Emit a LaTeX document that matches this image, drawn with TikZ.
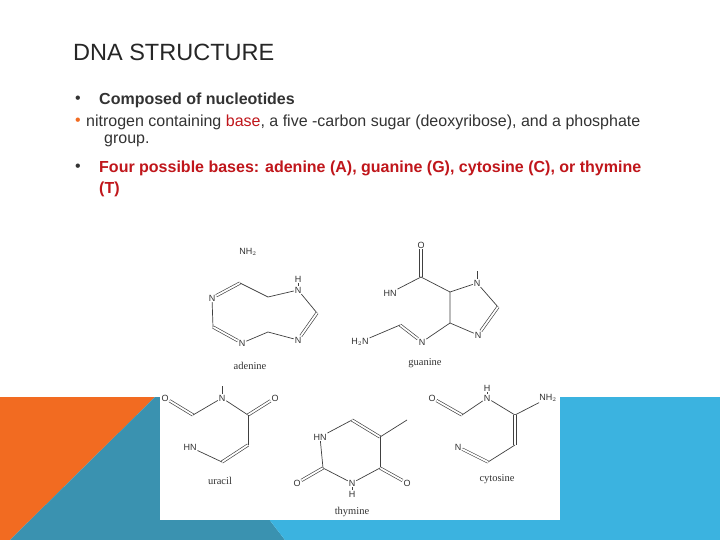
\documentclass[tikz,border=0pt]{standalone}
\usepackage{fontspec}
\setmainfont{Liberation Sans}
\newfontfamily\labfont{Liberation Serif}
\definecolor{orng}{HTML}{F26B21}
\definecolor{teal2}{HTML}{3A92B0}
\definecolor{lblue}{HTML}{3BB3E0}
\definecolor{dred}{HTML}{C0161B}
\begin{document}
\begin{tikzpicture}[x=1pt,y=-1pt,
  atom/.style={font=\fontsize{9}{10}\selectfont,inner sep=0.8pt,text=black!80},
  mlab/.style={font=\labfont\fontsize{10.5}{11}\selectfont,text=black!80},
  bd/.style={draw=black!75,line width=0.7pt},
  db/.style={draw=black!75,double=white,double distance=1.8pt,line width=0.65pt},
  txt/.style={anchor=west,inner sep=0pt,text=black!80}]
\useasboundingbox (0,0) rectangle (720,540);
\fill[white] (0,0) rectangle (720,540);
% background shapes
\fill[orng] (0,397) -- (155,397) -- (10,540) -- (0,540) -- cycle;
\fill[teal2] (155,397) -- (175,397) -- (285,540) -- (10,540) -- cycle;
\fill[lblue] (175,397) -- (720,397) -- (720,540) -- (285,540) -- cycle;
% texts
\node[txt,font=\fontsize{23.5}{26}\selectfont,text=black!85] (title) at (73,52) {DNA STRUCTURE};
\node[txt,font=\fontsize{16}{18}\selectfont] (b1) at (75,100) {•};
\node[txt,font=\bfseries\fontsize{16}{18}\selectfont] (t1) at (99,100) {Composed of nucleotides};
\node[txt,font=\fontsize{16}{18}\selectfont,text=orng] (b2) at (75,122) {•};
\node[txt,font=\fontsize{16}{18}\selectfont] (t2) at (86,122) {nitrogen containing \textcolor{dred}{base}, a five -carbon sugar (deoxyribose), and a phosphate};
\node[txt,font=\fontsize{16}{18}\selectfont] (t2b) at (104,141) {group.};
\node[txt,font=\fontsize{16}{18}\selectfont] (b3) at (75,168) {•};
\node[txt,font=\bfseries\fontsize{16}{18}\selectfont,text=dred] (t3) at (99,168) {Four possible bases: adenine (A), guanine (G), cytosine (C), or thymine};
\node[txt,font=\bfseries\fontsize{16}{18}\selectfont,text=dred] (t3b) at (99,189) {(T)};
% picture panel
\fill[white] (160,238) rectangle (560,520);
% adenine
\node[atom] (aNH2) at (248,252) {NH$_2$};
\node[atom] (aN1) at (212,298) {N};
\coordinate (aC2) at (240,283);
\coordinate (aC3) at (268,297);
\node[atom] (aNH) at (298,290) {N};
\node[atom] (aH) at (298,279) {H};
\coordinate (aC4) at (317,313);
\node[atom] (aN2) at (298,340) {N};
\coordinate (aC5) at (268,332);
\node[atom] (aN3) at (242,343) {N};
\coordinate (aC6) at (213,327);
\draw[db] (aN1) -- (aC2);
\draw[bd] (aC2) -- (aC3) -- (aNH) -- (aC4);
\draw[bd] (aNH) -- (aH);
\draw[db] (aC4) -- (aN2);
\draw[bd] (aN2) -- (aC5) -- (aN3);
\draw[db] (aN3) -- (aC6);
\draw[bd] (aC6) -- (aN1);
\node[mlab] (lade) at (250,366) {adenine};
% guanine
\node[atom] (gO) at (421,245) {O};
\coordinate (gC1) at (421,277);
\node[atom] (gHN) at (390,293) {HN};
\coordinate (gC2) at (450,292);
\node[atom] (gN1) at (477,283) {N};
\coordinate (gC3) at (498,307);
\node[atom] (gN2) at (478,335) {N};
\coordinate (gC4) at (450,323);
\node[atom] (gN3) at (422,342) {N};
\coordinate (gC5) at (400,325);
\node[atom] (gNH2) at (360,342) {H$_2$N};
\draw[db] (gO) -- (gC1);
\draw[bd] (gC1) -- (gHN);
\draw[bd] (gC1) -- (gC2) -- (gN1) -- (gC3);
\draw[bd] (gN1) -- ++(0,-12);
\draw[db] (gC3) -- (gN2);
\draw[bd] (gN2) -- (gC4) -- (gC2);
\draw[bd] (gC4) -- (gN3);
\draw[db] (gN3) -- (gC5);
\draw[bd] (gC5) -- (gNH2);
\node[mlab] (lgua) at (425,363) {guanine};
% uracil
\node[atom] (uO1) at (165,398) {O};
\coordinate (uC1) at (193,415);
\node[atom] (uN1) at (222,398) {N};
\coordinate (uC2) at (248,415);
\node[atom] (uO2) at (275,398) {O};
\coordinate (uC3) at (248,445);
\coordinate (uC4) at (222,462);
\node[atom] (uHN) at (190,447) {HN};
\draw[db] (uO1) -- (uC1);
\draw[bd] (uC1) -- (uN1) -- (uC2);
\draw[bd] (uN1) -- ++(0,-12);
\draw[db] (uC2) -- (uO2);
\draw[bd] (uC2) -- (uC3);
\draw[db] (uC3) -- (uC4);
\draw[bd] (uC4) -- (uHN);
\node[mlab] (lura) at (220,481) {uracil};
% thymine
\node[atom] (tHN) at (320,437) {HN};
\coordinate (tC1) at (352,420);
\coordinate (tC2) at (380,437);
\coordinate (tMe) at (407,420);
\coordinate (tC3) at (380,468);
\node[atom] (tO2) at (407,483) {O};
\node[atom] (tN) at (352,483) {N};
\node[atom] (tH) at (352,494) {H};
\coordinate (tC4) at (323,468);
\node[atom] (tO1) at (297,483) {O};
\draw[bd] (tHN) -- (tC1);
\draw[db] (tC1) -- (tC2);
\draw[bd] (tC2) -- (tMe);
\draw[bd] (tC2) -- (tC3);
\draw[db] (tC3) -- (tO2);
\draw[bd] (tC3) -- (tN) -- (tC4);
\draw[bd] (tN) -- (tH);
\draw[db] (tC4) -- (tO1);
\draw[bd] (tC4) -- (tHN);
\node[mlab] (lthy) at (352,512) {thymine};
% cytosine
\node[atom] (cO) at (432,398) {O};
\coordinate (cC1) at (462,415);
\node[atom] (cN1) at (487,398) {N};
\node[atom] (cH) at (487,388) {H};
\coordinate (cC2) at (515,415);
\node[atom] (cNH2) at (548,398) {NH$_2$};
\coordinate (cC3) at (515,445);
\coordinate (cC4) at (488,462);
\node[atom] (cN2) at (458,447) {N};
\draw[db] (cO) -- (cC1);
\draw[bd] (cC1) -- (cN1) -- (cC2) -- (cNH2);
\draw[bd] (cN1) -- (cH);
\draw[db] (cC2) -- (cC3);
\draw[bd] (cC3) -- (cC4);
\draw[db] (cC4) -- (cN2);
\node[mlab] (lcyt) at (497,479) {cytosine};
\end{tikzpicture}
\end{document}
